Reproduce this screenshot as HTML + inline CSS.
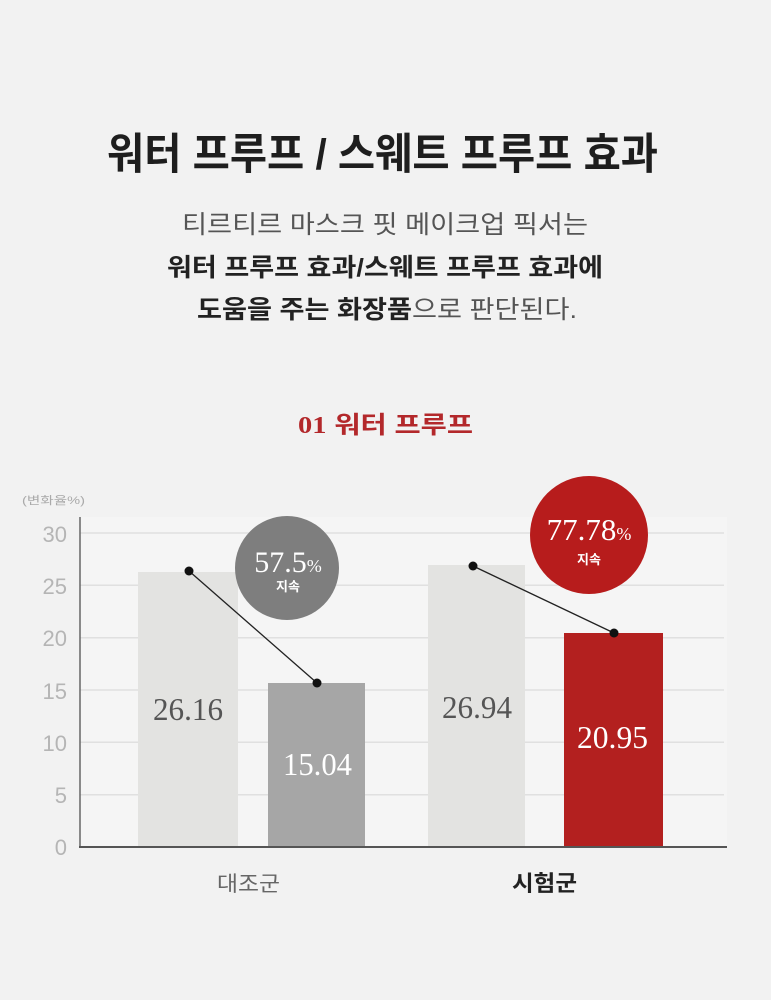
<!DOCTYPE html>
<html>
<head>
<meta charset="utf-8">
<style>
  html,body{margin:0;padding:0;background:#f2f2f2;}
  svg{display:block;}
  .kr{font-family:"Liberation Sans","Noto Sans CJK KR","NanumGothic",sans-serif;}
  .sf{font-family:"Liberation Serif","Noto Serif CJK SC",serif;}
</style>
</head>
<body>
<svg width="771" height="1000" viewBox="0 0 771 1000" xmlns="http://www.w3.org/2000/svg">
  <rect x="0" y="0" width="771" height="1000" fill="#f2f2f2"/>

  <!-- Title -->
  <text class="kr" x="107" y="169" font-size="43" font-weight="bold" fill="#1e1e1e" textLength="551" lengthAdjust="spacingAndGlyphs">워터 프루프 / 스웨트 프루프 효과</text>

  <!-- Subtitle -->
  <text class="kr" x="182" y="233" font-size="25" fill="#555" textLength="406" lengthAdjust="spacingAndGlyphs">티르티르 마스크 핏 메이크업 픽서는</text>
  <text class="kr" x="167" y="276" font-size="25" font-weight="bold" fill="#222" textLength="436" lengthAdjust="spacingAndGlyphs">워터 프루프 효과/스웨트 프루프 효과에</text>
  <text class="kr" x="197" y="318" font-size="25" fill="#333" textLength="380" lengthAdjust="spacingAndGlyphs"><tspan font-weight="bold" fill="#222">도움을 주는 화장품</tspan><tspan fill="#555">으로 판단된다.</tspan></text>

  <!-- Section heading -->
  <text x="298" y="433" font-size="24" font-weight="bold" fill="#b3282b" textLength="175" lengthAdjust="spacingAndGlyphs"><tspan class="sf">01</tspan><tspan class="kr"> 워터 프루프</tspan></text>

  <!-- Plot area -->
  <rect x="80" y="517" width="647" height="330" fill="#f5f5f5"/>

  <!-- y label -->
  <text class="kr" x="22" y="504" font-size="11" fill="#aaa" textLength="63" lengthAdjust="spacingAndGlyphs">(변화율%)</text>

  <!-- grid lines -->
  <g stroke="#e0e0e0" stroke-width="1.5">
    <line x1="80" y1="533" x2="724" y2="533"/>
    <line x1="80" y1="585.3" x2="724" y2="585.3"/>
    <line x1="80" y1="637.7" x2="724" y2="637.7"/>
    <line x1="80" y1="690" x2="724" y2="690"/>
    <line x1="80" y1="742.3" x2="724" y2="742.3"/>
    <line x1="80" y1="794.7" x2="724" y2="794.7"/>
  </g>

  <!-- tick labels -->
  <g class="kr" font-family="Liberation Sans, sans-serif" font-size="22" fill="#b5b5b5" text-anchor="end">
    <text x="67" y="542">30</text>
    <text x="67" y="594">25</text>
    <text x="67" y="646">20</text>
    <text x="67" y="699">15</text>
    <text x="67" y="751">10</text>
    <text x="67" y="803">5</text>
    <text x="67" y="855">0</text>
  </g>

  <!-- bars -->
  <rect x="138" y="572" width="100" height="275" fill="#e3e3e1"/>
  <rect x="268" y="683" width="97" height="164" fill="#a6a6a6"/>
  <rect x="428" y="565" width="97" height="282" fill="#e3e3e1"/>
  <rect x="564" y="633" width="99" height="214" fill="#b3201f"/>

  <!-- axes -->
  <line x1="80" y1="517" x2="80" y2="847" stroke="#666" stroke-width="1.5"/>
  <line x1="79" y1="847" x2="727" y2="847" stroke="#555" stroke-width="2"/>

  <!-- connecting lines -->
  <line x1="189" y1="571" x2="317" y2="683" stroke="#222" stroke-width="1.3"/>
  <line x1="473" y1="566" x2="614" y2="633" stroke="#222" stroke-width="1.3"/>
  <g fill="#111">
    <circle cx="189" cy="571" r="4.5"/>
    <circle cx="317" cy="683" r="4.5"/>
    <circle cx="473" cy="566" r="4.5"/>
    <circle cx="614" cy="633" r="4.5"/>
  </g>

  <!-- badges -->
  <circle cx="287" cy="568" r="52" fill="#7e7e7e"/>
  <text class="sf" x="288" y="572" text-anchor="middle" fill="#fff"><tspan font-size="30">57.5</tspan><tspan font-size="18">%</tspan></text>
  <text class="kr" x="288" y="591" text-anchor="middle" font-size="13" font-weight="bold" fill="#fff">지속</text>

  <circle cx="589" cy="535" r="59" fill="#b71c1c"/>
  <text class="sf" x="589" y="540" text-anchor="middle" fill="#fff"><tspan font-size="31">77.78</tspan><tspan font-size="18">%</tspan></text>
  <text class="kr" x="589" y="564" text-anchor="middle" font-size="13" font-weight="bold" fill="#fff">지속</text>

  <!-- value labels -->
  <text class="sf" x="153" y="720" font-size="32" fill="#555" textLength="70" lengthAdjust="spacingAndGlyphs">26.16</text>
  <text class="sf" x="283" y="775" font-size="32" fill="#fff" textLength="69" lengthAdjust="spacingAndGlyphs">15.04</text>
  <text class="sf" x="442" y="718" font-size="32" fill="#555" textLength="70" lengthAdjust="spacingAndGlyphs">26.94</text>
  <text class="sf" x="577" y="748" font-size="32" fill="#fff" textLength="71" lengthAdjust="spacingAndGlyphs">20.95</text>

  <!-- x labels -->
  <text class="kr" x="217" y="891" font-size="21" fill="#666" textLength="63" lengthAdjust="spacingAndGlyphs">대조군</text>
  <text class="kr" x="512" y="891" font-size="22" font-weight="bold" fill="#222" textLength="65" lengthAdjust="spacingAndGlyphs">시험군</text>
</svg>
</body>
</html>
